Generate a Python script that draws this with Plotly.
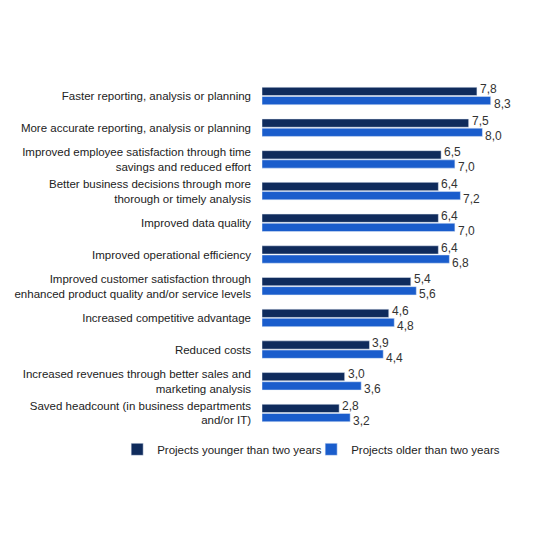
import plotly.graph_objects as go

categories = [
    "Faster reporting, analysis or planning",
    "More accurate reporting, analysis or planning",
    "Improved employee satisfaction through time<br>savings and reduced effort",
    "Better business decisions through more<br>thorough or timely analysis",
    "Improved data quality",
    "Improved operational efficiency",
    "Improved customer satisfaction through<br>enhanced product quality and/or service levels",
    "Increased competitive advantage",
    "Reduced costs",
    "Increased revenues through better sales and<br>marketing analysis",
    "Saved headcount (in business departments<br>and/or IT)",
]
younger = [7.8, 7.5, 6.5, 6.4, 6.4, 6.4, 5.4, 4.6, 3.9, 3.0, 2.8]
older = [8.3, 8.0, 7.0, 7.2, 7.0, 6.8, 5.6, 4.8, 4.4, 3.6, 3.2]

dark = "#0f2b5c"
blue = "#1a5dcc"
font = "Liberation Sans, Arial, sans-serif"

fig = go.Figure()
fig.add_trace(go.Bar(y=categories, x=younger, orientation="h",
                     name="Projects younger than two years", marker_color=dark))
fig.add_trace(go.Bar(y=categories, x=older, orientation="h",
                     name="Projects older than two years", marker_color=blue))

# value labels, nudged up / down like the original
annotations = []
for cat, a, b in zip(categories, younger, older):
    annotations.append(dict(x=a, y=cat, text=f"{a:.1f}".replace(".", ","),
                            xanchor="left", xshift=1, yshift=7, showarrow=False,
                            font=dict(family=font, size=12, color="#333333")))
    annotations.append(dict(x=b, y=cat, text=f"{b:.1f}".replace(".", ","),
                            xanchor="left", xshift=1, yshift=-8, showarrow=False,
                            font=dict(family=font, size=12, color="#333333")))

fig.update_layout(
    width=540, height=540,
    barmode="group", bargap=0.42, bargroupgap=0.1,
    margin=dict(l=254, r=38, t=71, b=119, autoexpand=False),
    paper_bgcolor="white", plot_bgcolor="white",
    font=dict(family=font, size=11, color="#222222"),
    xaxis=dict(range=[0, 9], showgrid=False, zeroline=False,
               showticklabels=False, showline=False, automargin=False),
    yaxis=dict(autorange="reversed", showgrid=False, showline=False,
               ticks="", ticklabelstandoff=10, automargin=False,
               tickfont=dict(family=font, size=11.5, color="#222222")),
    legend=dict(orientation="h", x=-0.584, xanchor="left", y=-0.058,
                yanchor="middle", font=dict(family=font, size=11.5, color="#222222"),
                itemwidth=30, entrywidth=149, tracegroupgap=0),
    annotations=annotations,
    showlegend=True,
)

fig.write_html("out.html")
